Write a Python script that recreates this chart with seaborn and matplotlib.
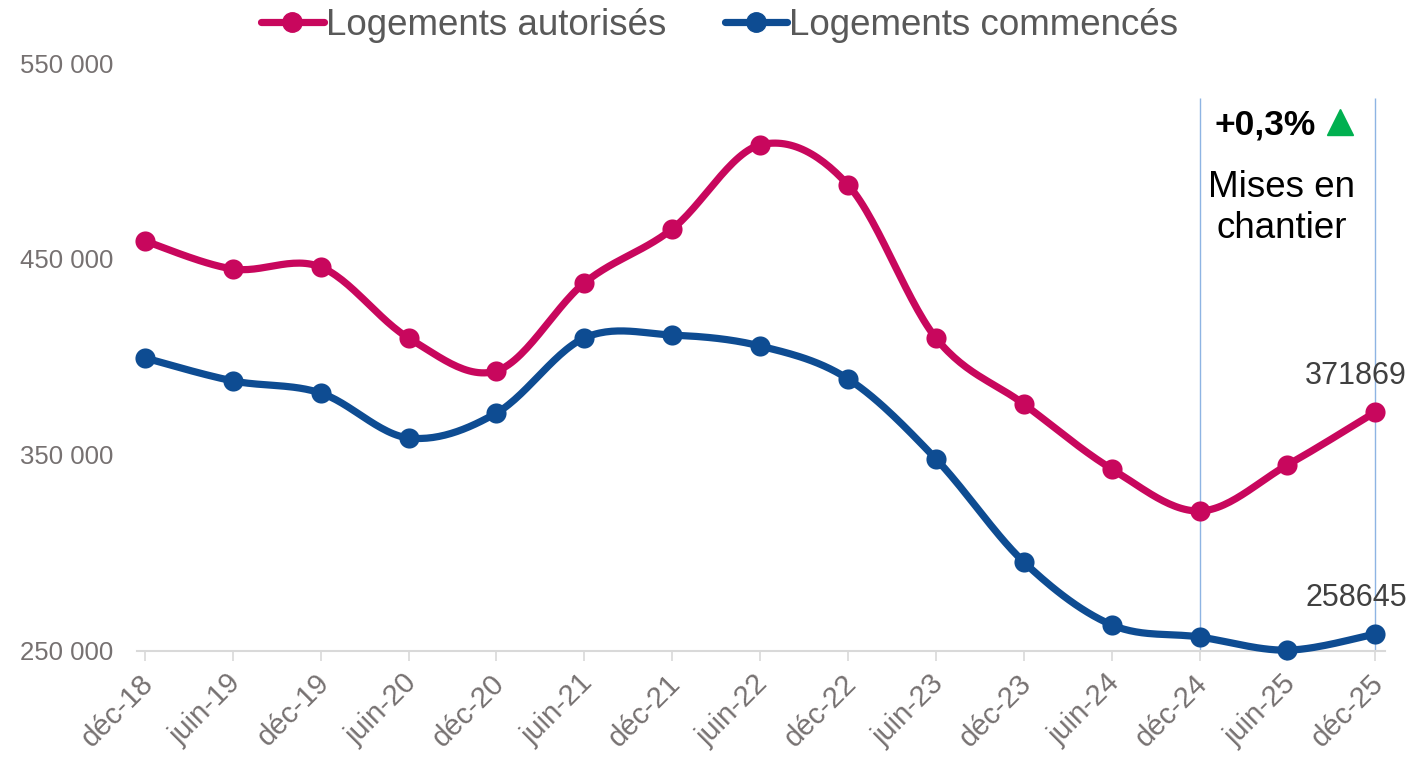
import matplotlib
matplotlib.use("Agg")
import matplotlib.pyplot as plt
import matplotlib.transforms as mtrans
from matplotlib.lines import Line2D
import seaborn as sns
import numpy as np
import pandas as pd

# data
periods = ["déc-18", "juin-19", "déc-19", "juin-20", "déc-20", "juin-21", "déc-21",
           "juin-22", "déc-22", "juin-23", "déc-23", "juin-24", "déc-24", "juin-25", "déc-25"]
autorises = [459200, 444900, 445900, 409700, 392900, 437800, 465300,
             508200, 487800, 409700, 376000, 342900, 321400, 344900, 371869]
commences = [399500, 387800, 381600, 358700, 371400, 409700, 411200,
             405600, 388800, 348000, 295400, 263300, 257100, 250400, 258645]
yticks = [250000, 350000, 450000, 550000]

PINK = "#C8075D"
BLUE = "#0E4C92"
GREY = "#767171"


def smooth(y, n=30):
	# Excel-like smoothed line (Catmull-Rom as cubic bezier)
	y = np.asarray(y, dtype=float)
	x = np.arange(len(y), dtype=float)
	P = np.column_stack([x, y])
	P = np.vstack([P[0], P, P[-1]])
	out = []
	t = np.linspace(0, 1, n)[:, None]
	for i in range(1, len(P) - 2):
		p0, p1, p2, p3 = P[i - 1], P[i], P[i + 1], P[i + 2]
		b1 = p1 + (p2 - p0) / 6
		b2 = p2 - (p3 - p1) / 6
		seg = (1 - t) ** 3 * p1 + 3 * (1 - t) ** 2 * t * b1 + 3 * (1 - t) * t ** 2 * b2 + t ** 3 * p2
		out.append(seg if i == 1 else seg[1:])
	return np.vstack(out)


def set_style():
	sns.set_style("white")
	plt.rcParams["font.family"] = ["Liberation Sans", "DejaVu Sans"]


set_style()
fig = plt.figure(figsize=(14.14, 7.64), dpi=100)
ax = fig.add_axes([0.0969, 0.148, 0.8826, 0.7695])

for vals, col in [(autorises, PINK), (commences, BLUE)]:
	curve = smooth(vals)
	df = pd.DataFrame({"x": curve[:, 0], "y": curve[:, 1]})
	sns.lineplot(data=df, x="x", y="y", ax=ax, color=col, linewidth=5.2,
				 sort=False, estimator=None, clip_on=False, zorder=3)
	pts = pd.DataFrame({"x": np.arange(len(vals)), "y": vals})
	sns.scatterplot(data=pts, x="x", y="y", ax=ax, color=col, s=210,
					edgecolor=col, linewidth=0, clip_on=False, zorder=4)

ax.set_xlim(-0.09, 14.11)
ax.set_ylim(250000, 550000)
ax.set_xlabel("")
ax.set_ylabel("")

ax.set_yticks(yticks)
ax.set_yticklabels([f"{v:,}".replace(",", " ") for v in yticks])
ax.set_xticks(np.arange(len(periods)))
ax.set_xticklabels(periods, rotation=45, ha="right", va="top", rotation_mode="anchor")
ax.tick_params(axis="y", length=0, pad=17, labelsize=18.5, labelcolor=GREY)
ax.tick_params(axis="x", length=7, width=1.2, color="#D9D9D9", direction="out",
			   bottom=True, pad=6, labelsize=21, labelcolor=GREY)
shift = mtrans.ScaledTranslation(-6 / 100, 0, fig.dpi_scale_trans)
for lab in ax.get_xticklabels():
	lab.set_transform(lab.get_transform() + shift)

for s in ["top", "right", "left"]:
	ax.spines[s].set_visible(False)
ax.spines["bottom"].set_color("#D9D9D9")
ax.spines["bottom"].set_linewidth(1.5)

# highlight lines
ax.vlines([12, 14], 250000, 532000, color="#8EB4E3", linewidth=1.0, zorder=2)

# last value labels
ax.annotate(f"{autorises[-1]}", (14, autorises[-1]), xytext=(-14, 26), textcoords="offset points",
			ha="center", va="center", fontsize=22, color="#404040")
ax.annotate(f"{commences[-1]}", (14, commences[-1]), xytext=(-14, 26), textcoords="offset points",
			ha="center", va="center", fontsize=22, color="#404040")

ax.text(12.75, 518400, "+0,3%", ha="center", va="center", fontsize=25.5,
		fontweight="bold", color="black")
ax.plot([13.6], [519800], marker="^", markersize=19, color="#00B050", linestyle="none")
ax.text(12.93, 476000, "Mises en\nchantier", ha="center", va="center", fontsize=26.5,
		color="black", linespacing=1.2)

handles = [
	Line2D([], [], color=PINK, linewidth=5.2, marker="o", markersize=14),
	Line2D([], [], color=BLUE, linewidth=5.2, marker="o", markersize=14),
]
fig.legend(handles, ["Logements autorisés", "Logements commencés"], loc="center",
		   bbox_to_anchor=(0.509, 0.967), ncol=2, frameon=False, fontsize=26.5,
		   labelcolor="#595959", handlelength=1.7, handletextpad=0.05, columnspacing=1.6)

fig.savefig("out.png", dpi=100)
